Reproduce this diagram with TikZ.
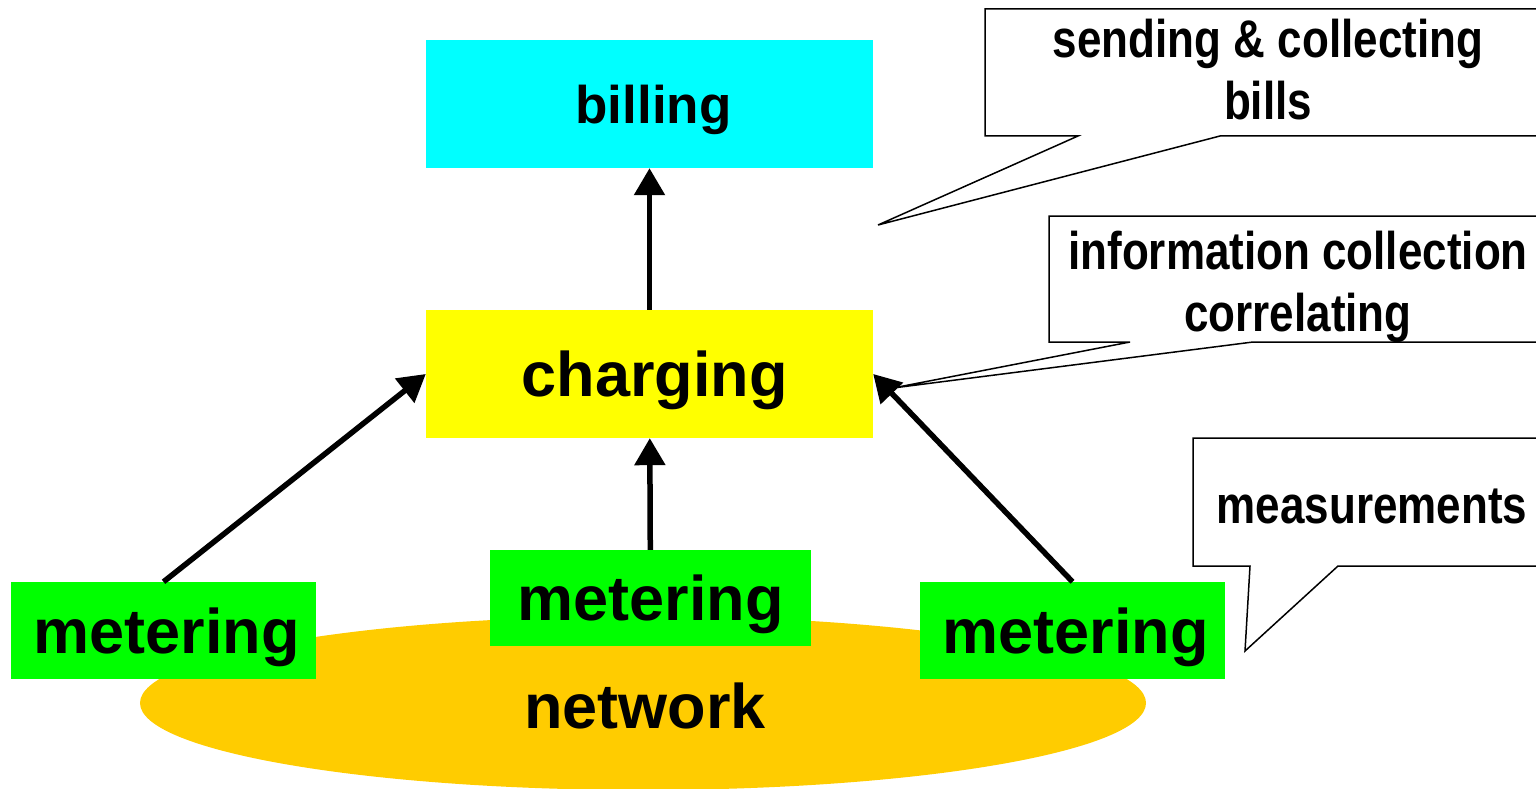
\documentclass[tikz,border=0pt]{standalone}
\usepackage{fontspec}
\setmainfont{Liberation Sans}
\newfontfamily\narrowsans[FakeStretch=0.83]{Liberation Sans}
\usetikzlibrary{arrows.meta,shapes.geometric}

\definecolor{billcyan}{HTML}{00FFFF}
\definecolor{chargeyellow}{HTML}{FFFF00}
\definecolor{netorange}{HTML}{FFCC00}
\definecolor{metergreen}{HTML}{00FF00}

\tikzset{
	label/.style={inner sep=0pt, text depth=0pt, font=\fontsize{63}{70}\selectfont\bfseries},
	layer/.style={label, minimum width=447pt, minimum height=128pt},
	meter/.style={label, fill=metergreen, minimum width=305pt, minimum height=97pt},
	flow/.style={line width=5.5pt, -{Triangle[length=27pt,width=30pt]}},
	bubble/.style={draw=black, line width=1.5pt, fill=white},
	note/.style={align=center, inner sep=0pt, font=\narrowsans\bfseries\fontsize{53}{62}\selectfont},
}

\begin{document}
\begin{tikzpicture}[x=1pt, y=-1pt]
	\useasboundingbox (0,0) rectangle (1536,789);
	\clip (0,0) rectangle (1536,789);

	\node[layer, fill=billcyan, font=\fontsize{53}{60}\selectfont\bfseries] (billing) at (649.5,104) {\hspace{8pt}billing};
	\node[layer, fill=chargeyellow] (charging) at (649.5,374) {\hspace{10pt}charging};

	\node[label, ellipse, fill=netorange, minimum width=1006pt, minimum height=174pt] (net) at (643,703) {};
	\node[label] (netlabel) at (645,706) {network};

	\node[meter] (meterL) at (163.5,630.5) {\hspace{6pt}metering};
	\node[meter, minimum width=321pt, minimum height=96pt] (meterM) at (650.5,598) {metering};
	\node[meter] (meterR) at (1072.5,630.5) {\hspace{6pt}metering};

	\draw[flow] (charging) -- (billing);
	\draw[flow] (meterM) -- (charging);
	\draw[flow] (meterL.north) -- (charging.west);
	\draw[flow] (meterR.north) -- (charging.east);

	% speech bubbles on the right
	\coordinate (billsPtr) at (878,225);
	\coordinate (infoPtr) at (893,388);
	\coordinate (measPtr) at (1245,651);

	\path[bubble] (985,9) -- (1551,9) -- (1551,136) -- (1220,136) -- (billsPtr) -- (1078,136) -- (985,136) -- cycle;
	\node[note] (bills) at (1268,70) {sending \& collecting\\bills};

	\path[bubble] (1049,216) -- (1551,216) -- (1551,342) -- (1253,342) -- (infoPtr) -- (1130,342) -- (1049,342) -- cycle;
	\node[note] (info) at (1298,287) {information collection\\correlating};

	\path[bubble] (1193,438) -- (1551,438) -- (1551,566) -- (1338,566) -- (measPtr) -- (1250,566) -- (1193,566) -- cycle;
	\node[note] (meas) at (1372,506) {measurements};
\end{tikzpicture}
\end{document}
